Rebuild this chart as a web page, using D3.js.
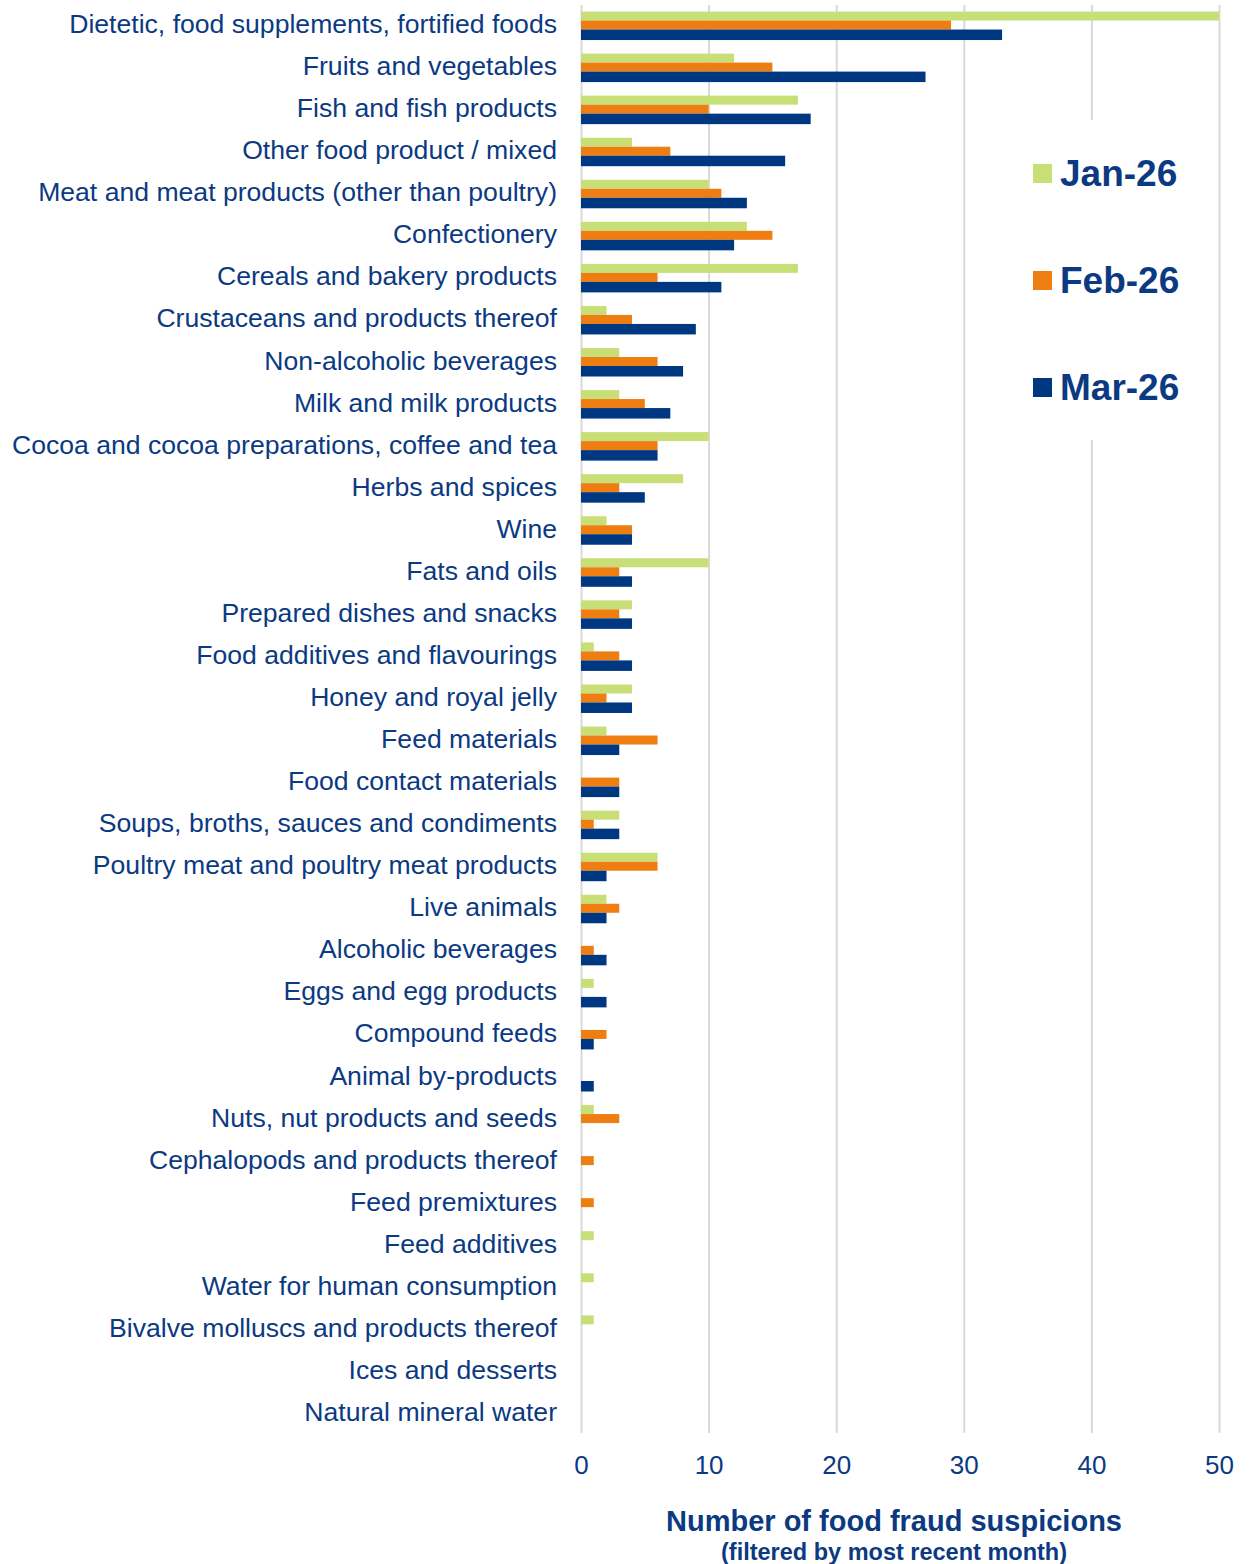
<!DOCTYPE html>
<html>
<head>
<meta charset="utf-8">
<script src="https://cdn.jsdelivr.net/npm/d3@7"></script>
<style>
  body { margin: 0; background: #fff; }
  text { font-family: "Liberation Sans", Arial, sans-serif; }
</style>
</head>
<body>
<div id="canvas"></div>
<script>
// Canvas size.
const WIDTH = 1249;
const HEIGHT = 1564;

// The dataset.
const categories = [
    "Dietetic, food supplements, fortified foods",
    "Fruits and vegetables",
    "Fish and fish products",
    "Other food product / mixed",
    "Meat and meat products (other than poultry)",
    "Confectionery",
    "Cereals and bakery products",
    "Crustaceans and products thereof",
    "Non-alcoholic beverages",
    "Milk and milk products",
    "Cocoa and cocoa preparations, coffee and tea",
    "Herbs and spices",
    "Wine",
    "Fats and oils",
    "Prepared dishes and snacks",
    "Food additives and flavourings",
    "Honey and royal jelly",
    "Feed materials",
    "Food contact materials",
    "Soups, broths, sauces and condiments",
    "Poultry meat and poultry meat products",
    "Live animals",
    "Alcoholic beverages",
    "Eggs and egg products",
    "Compound feeds",
    "Animal by-products",
    "Nuts, nut products and seeds",
    "Cephalopods and products thereof",
    "Feed premixtures",
    "Feed additives",
    "Water for human consumption",
    "Bivalve molluscs and products thereof",
    "Ices and desserts",
    "Natural mineral water"
];
const jan26 = [50, 12, 17, 4, 10, 13, 17, 2, 3, 3, 10, 8, 2, 10, 4, 1, 4, 2, 0, 3, 6, 2, 0, 1, 0, 0, 1, 0, 0, 1, 1, 1, 0, 0];
const feb26 = [29, 15, 10, 7, 11, 15, 6, 4, 6, 5, 6, 3, 4, 3, 3, 3, 2, 6, 3, 1, 6, 3, 1, 0, 2, 0, 3, 1, 1, 0, 0, 0, 0, 0];
const mar26 = [33, 27, 18, 16, 13, 12, 11, 9, 8, 7, 6, 5, 4, 4, 4, 4, 4, 3, 3, 3, 2, 2, 2, 2, 1, 1, 0, 0, 0, 0, 0, 0, 0, 0];
const seriesNames = ["Jan-26", "Feb-26", "Mar-26"];
const xTicks = [0, 10, 20, 30, 40, 50];

const seriesValues = [jan26, feb26, mar26];
const colors = ["#c8df78", "#ee7d12", "#003781"];
const textColor = "#0b3a82";

const svg = d3.select("#canvas")
    .append("svg")
    .attr("width", WIDTH)
    .attr("height", HEIGHT);

// Scales.
const xScale = d3.scaleLinear().domain([0, 50]).range([581, 1219]);
const yScale = d3.scaleBand().domain(categories).range([3, 1433]);
const inner = d3.scaleBand().domain(seriesNames).range([-12.5, 14.5]);

// Gridlines + tick labels.
const xAxis = svg.append("g")
    .attr("transform", `translate(0, 1433)`)
    .call(d3.axisBottom(xScale).tickValues(xTicks).tickSize(-1428).tickPadding(23));
xAxis.select(".domain").remove();
xAxis.selectAll(".tick line").attr("stroke", "#d9d9d9").attr("stroke-width", 2);
xAxis.selectAll(".tick text")
    .attr("fill", textColor)
    .style("font-size", "26px")
    .style("font-family", "'Liberation Sans', Arial, sans-serif");

// Bars.
const groups = svg.selectAll("g.series")
    .data(seriesValues)
    .enter()
    .append("g")
    .attr("class", "series")
    .attr("fill", (d, i) => colors[i]);

groups.each(function (vals, si) {
    d3.select(this).selectAll("rect")
        .data(vals.map((v, i) => ({ cat: categories[i], v })).filter(d => d.v > 0))
        .enter()
        .append("rect")
        .attr("x", xScale(0))
        .attr("y", d => yScale(d.cat) + yScale.bandwidth() / 2 + inner(seriesNames[si]))
        .attr("width", d => xScale(d.v) - xScale(0))
        .attr("height", si === 2 ? inner.bandwidth() + 1.5 : inner.bandwidth());
});

// Category labels.
const yAxis = svg.append("g")
    .attr("transform", `translate(581, 0.5)`)
    .call(d3.axisLeft(yScale).tickSize(0).tickPadding(24));
yAxis.select(".domain").remove();
yAxis.selectAll(".tick text")
    .attr("fill", textColor)
    .style("font-size", "26.6px")
    .style("font-family", "'Liberation Sans', Arial, sans-serif");

// Legend.
const legend = svg.append("g");
legend.append("rect")
    .attr("x", 1022).attr("y", 120).attr("width", 190).attr("height", 320)
    .attr("fill", "#fff");
const legendY = [173, 280, 387];
seriesNames.forEach((name, i) => {
    legend.append("rect")
        .attr("x", 1033).attr("y", legendY[i] - 9)
        .attr("width", 19).attr("height", 19)
        .attr("fill", colors[i]);
    legend.append("text")
        .attr("x", 1060).attr("y", legendY[i])
        .attr("dy", "0.36em")
        .attr("fill", textColor)
        .style("font-size", "37px")
        .style("font-weight", "bold")
        .text(name);
});

// Axis title.
svg.append("text")
    .attr("x", 894).attr("y", 1531)
    .attr("text-anchor", "middle")
    .attr("fill", textColor)
    .style("font-size", "29px")
    .style("font-weight", "bold")
    .text("Number of food fraud suspicions");
svg.append("text")
    .attr("x", 894).attr("y", 1560)
    .attr("text-anchor", "middle")
    .attr("fill", textColor)
    .style("font-size", "23.5px")
    .style("font-weight", "bold")
    .text("(filtered by most recent month)");
</script>
</body>
</html>
